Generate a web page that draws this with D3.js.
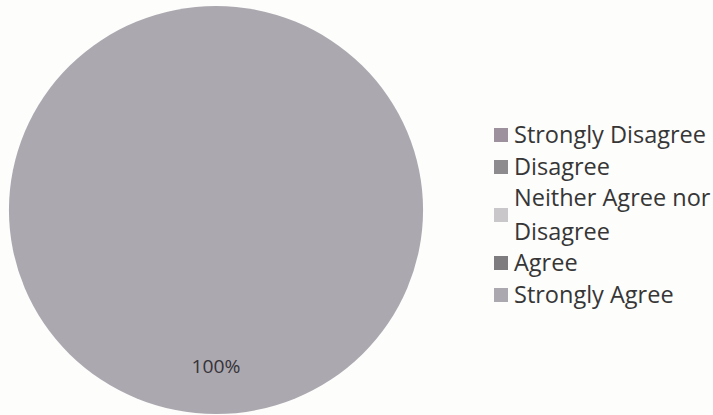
<!DOCTYPE html>
<html>
<head>
<meta charset="utf-8">
<script src="https://cdn.jsdelivr.net/npm/d3@7"></script>
<style>
  body { margin: 0; background: #fdfdfc; }
  svg { display: block; }
</style>
</head>
<body>
<div id="chart"></div>
<script>
var categories = ["Strongly Disagree", "Disagree", "Neither Agree nor Disagree", "Agree", "Strongly Agree"]
var legendLines = [["Strongly Disagree"], ["Disagree"], ["Neither Agree nor", "Disagree"], ["Agree"], ["Strongly Agree"]]
var values = [0, 0, 0, 0, 100]
var colors = ["#9d919d", "#8e8b8e", "#c9c7c9", "#7f7c80", "#aca8af"]

var width = 713, height = 415
var cx = 216, cy = 210, radius = 204

var svg = d3.select("#chart").append("svg")
    .attr("width", width)
    .attr("height", height)

var color = d3.scaleOrdinal().domain(categories).range(colors)

var pie = d3.pie().sort(null).value(function(d) { return d.value })
var arc = d3.arc().innerRadius(0).outerRadius(radius)

var data = categories.map(function(c, i) { return {name: c, value: values[i]} })
var arcs = pie(data)
var total = d3.sum(values)

var pieLayer = svg.append("g")
    .attr("transform", "translate(" + [cx, cy] + ") scale(1.015,1)")

pieLayer.selectAll("path")
    .data(arcs)
    .enter().append("path")
    .attr("d", arc)
    .attr("fill", function(d) { return color(d.data.name) })

// label for the non-empty slices, placed low in the slice like the original
pieLayer.selectAll("text")
    .data(arcs.filter(function(d) { return d.data.value > 0 }))
    .enter().append("text")
    .attr("x", 0)
    .attr("y", radius * 0.765)
    .attr("text-anchor", "middle")
    .attr("dominant-baseline", "central")
    .attr("font-family", "Open Sans, sans-serif")
    .attr("font-size", "19px")
    .attr("fill", "#36343a")
    .text(function(d) { return d3.format(".0%")(d.data.value / total) })

// legend
var rowY = [135, 167, 198, 263, 295]
var legend = svg.append("g").attr("class", "legend")

var item = legend.selectAll("g")
    .data(categories)
    .enter().append("g")
    .attr("transform", function(d, i) { return "translate(494," + rowY[i] + ")" })

item.append("rect")
    .attr("x", 0)
    .attr("y", function(d, i) { return i == 2 ? 10 : -7 })
    .attr("width", 14)
    .attr("height", 14)
    .attr("fill", function(d) { return color(d) })

item.append("text")
    .attr("font-family", "Open Sans, sans-serif")
    .attr("font-size", "23.5px")
    .attr("fill", "#363636")
    .selectAll("tspan")
    .data(function(d, i) { return legendLines[i] })
    .enter().append("tspan")
    .attr("x", 20)
    .attr("y", function(d, j) { return j * 34 })
    .attr("dy", "0.35em")
    .text(function(d) { return d })
</script>
</body>
</html>
